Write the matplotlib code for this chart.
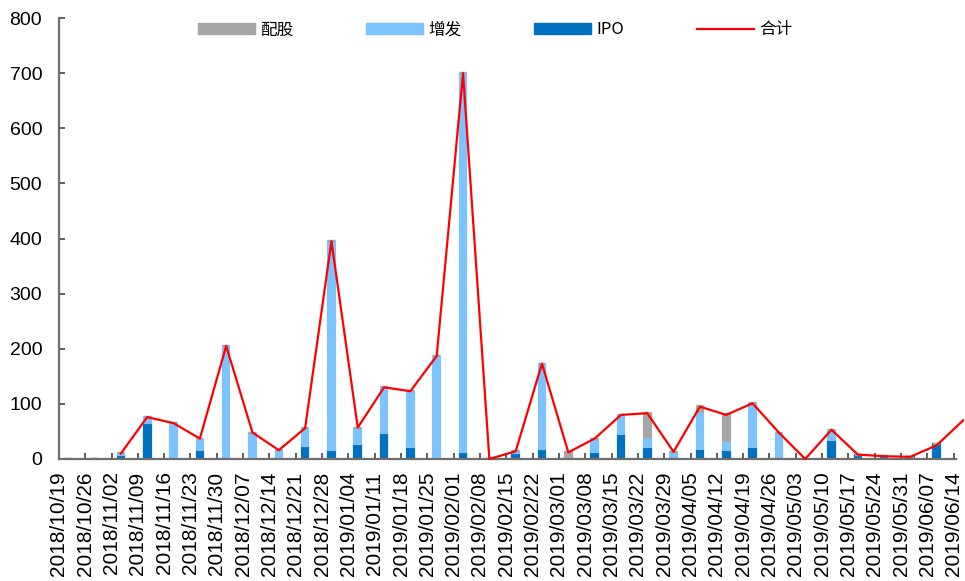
import numpy as np
import matplotlib
matplotlib.use("Agg")
import matplotlib.pyplot as plt
from matplotlib.patches import Patch
from matplotlib.lines import Line2D

# weekly equity financing (亿元): IPO, 增发, 配股 and the weekly total
weeks = [
    "2018/10/19", "2018/10/26", "2018/11/02", "2018/11/09", "2018/11/16",
    "2018/11/23", "2018/11/30", "2018/12/07", "2018/12/14", "2018/12/21",
    "2018/12/28", "2019/01/04", "2019/01/11", "2019/01/18", "2019/01/25",
    "2019/02/01", "2019/02/08", "2019/02/15", "2019/02/22", "2019/03/01",
    "2019/03/08", "2019/03/15", "2019/03/22", "2019/03/29", "2019/04/05",
    "2019/04/12", "2019/04/19", "2019/04/26", "2019/05/03", "2019/05/10",
    "2019/05/17", "2019/05/24", "2019/05/31", "2019/06/07", "2019/06/14",
]
ipo = [0, 0, 8, 65, 0, 16, 0, 2, 2, 24, 16, 27, 48, 22, 2, 13, 0, 10, 18, 4,
       13, 45, 21, 0, 18, 16, 22, 2, 0, 34, 8, 5, 4, 27, 0]
zengfa = [0, 0, 2, 11, 65, 21, 205, 46, 14, 32, 379, 30, 82, 101, 185, 687, 0,
          4, 155, 0, 24, 35, 19, 13, 68, 17, 79, 46, 0, 19, 0, 0, 0, 0, 0]
peigu = [0, 0, 0, 0, 0, 0, 0, 0, 0, 0, 0, 0, 0, 0, 0, 0, 0, 0, 0, 8,
         0, 0, 44, 0, 10, 48, 0, 0, 0, 0, 0, 0, 0, 0, 0]
total = [np.nan, np.nan, 10, 76, 65, 37, 205, 48, 16, 56, 395, 57, 130, 123,
         187, 700, 0, 14, 173, 12, 37, 80, 83, 13, 95, 80, 101, 48, 0, 53, 8,
         5, 4, 25, 70]

c_ipo = "#0070C0"
c_zf = "#7CC3FF"
c_pg = "#A6A6A6"
axis_grey = "#6E6E6E"

fig = plt.figure(figsize=(9.65, 5.81), dpi=100)
ax = fig.add_axes([0.061, 0.21, 0.930, 0.759])

ticks = np.arange(len(weeks))
xb = ticks + 0.357  # bars sit a little right of their date tick
w = 0.25
ipo_a = np.array(ipo, float)
zf_a = np.array(zengfa, float)
pg_a = np.array(peigu, float)

kw = dict(width=w, linewidth=1.6, joinstyle="round", zorder=2)
ax.bar(xb, ipo_a, color=c_ipo, edgecolor=c_ipo, **kw)
ax.bar(xb, zf_a, bottom=ipo_a, color=c_zf, edgecolor=c_zf, **kw)
ax.bar(xb, pg_a, bottom=ipo_a + zf_a, color=c_pg, edgecolor=c_pg, **kw)
ax.plot(xb, total, color="#FF0000", lw=1.6, zorder=3, clip_on=False)

ax.set_xlim(0, 34.1)
ax.set_ylim(0, 800)
ax.set_yticks(range(0, 801, 100))
ax.set_xticks(ticks)
ax.set_xticklabels(weeks, rotation=90, fontsize=15, family="Liberation Sans")
for lab in ax.get_yticklabels():
    lab.set_family("Liberation Sans")
    lab.set_fontsize(14)

ax.tick_params(axis="both", direction="in", length=4.5, width=1.1, color="#333333")
ax.tick_params(axis="y", pad=12)
ax.tick_params(axis="x", pad=9)
for s in ("top", "right"):
    ax.spines[s].set_visible(False)
for s in ("left", "bottom"):
    ax.spines[s].set_color(axis_grey)
    ax.spines[s].set_linewidth(1.6)

handles = [
    Patch(facecolor=c_pg, edgecolor=c_pg, joinstyle="round"),
    Patch(facecolor=c_zf, edgecolor=c_zf, joinstyle="round"),
    Patch(facecolor=c_ipo, edgecolor=c_ipo, joinstyle="round"),
    Line2D([], [], color="#FF0000", lw=1.6),
]
ax.legend(handles, ["配股", "增发", "IPO", "合计"], loc="center",
          bbox_to_anchor=(0.486, 0.973), ncol=4, frameon=False,
          prop={"family": ["Noto Sans CJK SC", "DejaVu Sans"], "size": 12},
          handlelength=3.4, handleheight=0.7, handletextpad=0.3,
          columnspacing=4.4)

fig.savefig("out.png", dpi=100)
